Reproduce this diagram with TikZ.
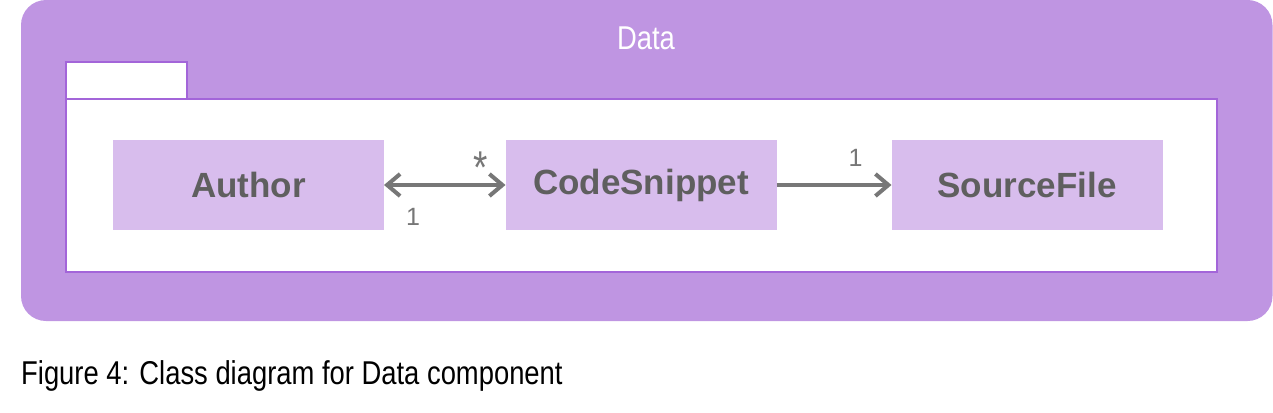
\documentclass[tikz,border=0pt]{standalone}
\usepackage{fontspec}
\usetikzlibrary{arrows.meta}
\newfontfamily\classfont{Liberation Sans}
\newfontfamily\condfont[FakeStretch=0.83]{Liberation Sans}
\newfontfamily\starfont[FakeStretch=0.8]{Liberation Sans}
\definecolor{outerpurple}{RGB}{191,149,226}
\definecolor{pkgborder}{RGB}{163,101,217}
\definecolor{classfill}{RGB}{216,189,237}
\definecolor{classtext}{RGB}{95,95,95}
\definecolor{arrowgray}{RGB}{119,119,119}
\tikzset{
  classbox/.style={fill=classfill, draw=none, inner sep=0pt, outer sep=0pt,
    minimum width=271pt, minimum height=90pt, text=classtext,
    font=\classfont\fontsize{35}{40}\selectfont\bfseries},
  pkgpart/.style={fill=white, draw=pkgborder, line width=2pt, inner sep=0pt, outer sep=0pt},
  assoc/.style={draw=arrowgray, line width=4pt},
  chev/.tip={Straight Barb[length=13pt, width=22pt, line width=4pt]},
  mult/.style={text=arrowgray, inner sep=0pt, anchor=base, font=\classfont\fontsize{25}{30}\selectfont},
}
\begin{document}
\begin{tikzpicture}[x=1pt,y=-1pt]
\useasboundingbox (0,0) rectangle (1273,412);
\fill[outerpurple, rounded corners=25pt] (21,0) rectangle (1272.5,321);
\node[white, inner sep=0pt, anchor=base, font=\condfont\fontsize{33}{38}\selectfont] (title) at (646,49) {Data};
\node[pkgpart, minimum width=121pt, minimum height=38pt] (tab) at (126.5,81) {};
\node[pkgpart, minimum width=1151pt, minimum height=173pt] (body) at (641.5,185.5) {};
\node[classbox] (author) at (248.5,185) {Author};
\node[classbox] (code) at (641,185) {CodeSnippet};
\node[classbox] (source) at (1027,185) {SourceFile};
\draw[assoc, {chev}-{chev}] (author.east) -- (code.west);
\draw[assoc, -{chev}] (code.east) -- (source.west);
\node[mult, font=\starfont\fontsize{46}{50}\selectfont] (star) at (480.5,183) {*};
\node[mult] (m1) at (413,225.5) {1};
\node[mult] (m2) at (855.5,166) {1};
\node[inner sep=0pt, anchor=base west, font=\condfont\fontsize{33}{38}\selectfont] (caption) at (21,384) {Figure 4: Class diagram for Data component};
\end{tikzpicture}
\end{document}
